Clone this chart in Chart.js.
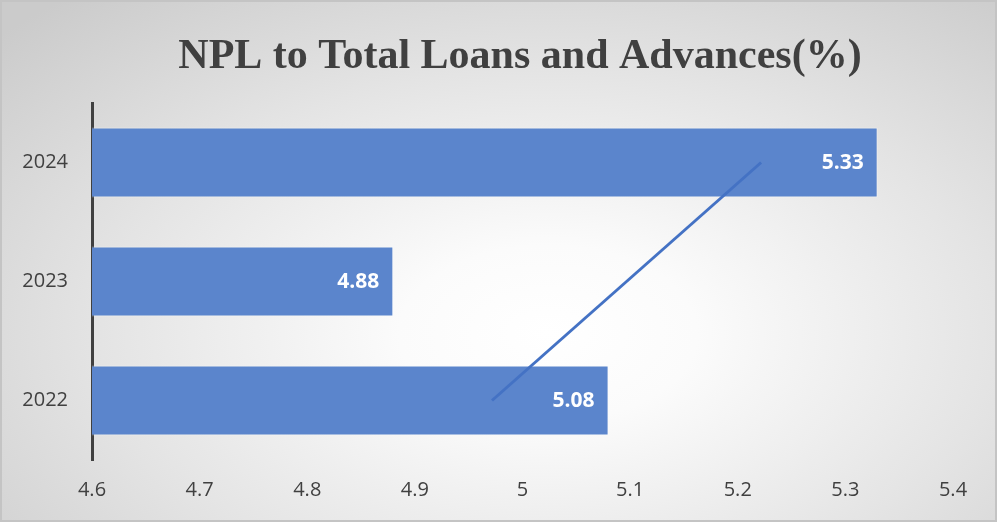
<!DOCTYPE html>
<html>
<head>
<meta charset="utf-8">
<script src="https://cdn.jsdelivr.net/npm/chart.js@4/dist/chart.umd.min.js"></script>
<style>
  html, body { margin: 0; padding: 0; }
  #wrap {
    position: relative;
    width: 997px; height: 522px;
    box-sizing: border-box;
    border: 2px solid #c4c4c4;
    background: radial-gradient(ellipse 75% 85% at 55% 64%, #ffffff 0%, #fbfbfb 20%, #e4e4e4 60%, #cbcbcb 100%);
  }
  canvas { position: absolute; left: -2px; top: -2px; }
</style>
</head>
<body>
<div id="wrap"><canvas id="c" width="997" height="522"></canvas></div>
<script>
// NPL ratio by year
const years = ['2022', '2023', '2024'];
const nplRatio = [5.08, 4.88, 5.33];
const xTicks = [4.6, 4.7, 4.8, 4.9, 5.0, 5.1, 5.2, 5.3, 5.4];
const chartTitle = 'NPL to Total Loans and Advances(%)';

// Linear trendline fitted over the yearly ratios
function linearTrend(values) {
  const n = values.length;
  const xs = values.map((_, i) => i + 1);
  const mx = xs.reduce((a, b) => a + b, 0) / n;
  const my = values.reduce((a, b) => a + b, 0) / n;
  let num = 0, den = 0;
  xs.forEach((x, i) => { num += (x - mx) * (values[i] - my); den += (x - mx) * (x - mx); });
  const slope = num / den;
  return [my + slope * (1 - mx), my + slope * (n - mx)];
}
const trend = linearTrend(nplRatio);

const labelFont = '"Open Sans", "DejaVu Sans", sans-serif';

// White value labels inside the end of each bar
const barValueLabels = {
  id: 'barValueLabels',
  afterDatasetsDraw(chart) {
    const meta = chart.getDatasetMeta(0);
    const ctx = chart.ctx;
    ctx.save();
    ctx.fillStyle = '#ffffff';
    ctx.font = 'bold 21px ' + labelFont;
    ctx.textAlign = 'right';
    ctx.textBaseline = 'middle';
    meta.data.forEach((bar, i) => {
      ctx.fillText(nplRatio[i].toFixed(2), bar.x - 14, bar.y + 1);
    });
    ctx.restore();
  }
};

// Centred serif heading above the plot
const headingText = {
  id: 'headingText',
  afterDraw(chart) {
    const ctx = chart.ctx;
    ctx.save();
    ctx.fillStyle = '#404040';
    ctx.font = 'bold 42px "Liberation Serif", "Times New Roman", serif';
    ctx.textAlign = 'center';
    ctx.textBaseline = 'alphabetic';
    ctx.fillText(chartTitle, 520, 68);
    ctx.restore();
  }
};

new Chart(document.getElementById('c'), {
  type: 'bar',
  data: {
    labels: years,
    datasets: [
      {
        type: 'bar',
        data: nplRatio,
        backgroundColor: '#5b85cc',
        borderColor: 'rgba(255,255,255,0.45)',
        borderWidth: 1,
        barPercentage: 0.59,
        categoryPercentage: 1.0,
        order: 2
      },
      {
        type: 'line',
        indexAxis: 'y',
        data: [{ y: years[0], x: trend[0] }, { y: years[years.length - 1], x: trend[1] }],
        borderColor: '#4472c4',
        borderWidth: 3,
        pointRadius: 0,
        fill: false,
        order: 1
      }
    ]
  },
  options: {
    indexAxis: 'y',
    responsive: false,
    animation: false,
    layout: { padding: { left: 0, right: 44, top: 103, bottom: 0 } },
    plugins: {
      legend: { display: false },
      tooltip: { enabled: false },
      title: { display: false }
    },
    scales: {
      x: {
        type: 'linear',
        min: xTicks[0],
        max: xTicks[xTicks.length - 1],
        afterBuildTicks(scale) { scale.ticks = xTicks.map(v => ({ value: v })); },
        afterFit(scale) { scale.height = 62; },
        grid: { display: false, drawTicks: false },
        border: { display: false },
        ticks: {
          padding: 18,
          color: '#404040',
          font: { family: labelFont, size: 20 },
          callback: v => String(+(+v).toFixed(1))
        }
      },
      y: {
        type: 'category',
        reverse: true,
        afterFit(scale) { scale.width = 92; },
        grid: { display: false, drawTicks: false },
        border: { display: true, color: '#404040', width: 3 },
        ticks: {
          padding: 24,
          color: '#404040',
          font: { family: labelFont, size: 20 }
        }
      }
    }
  },
  plugins: [barValueLabels, headingText]
});
</script>
</body>
</html>
